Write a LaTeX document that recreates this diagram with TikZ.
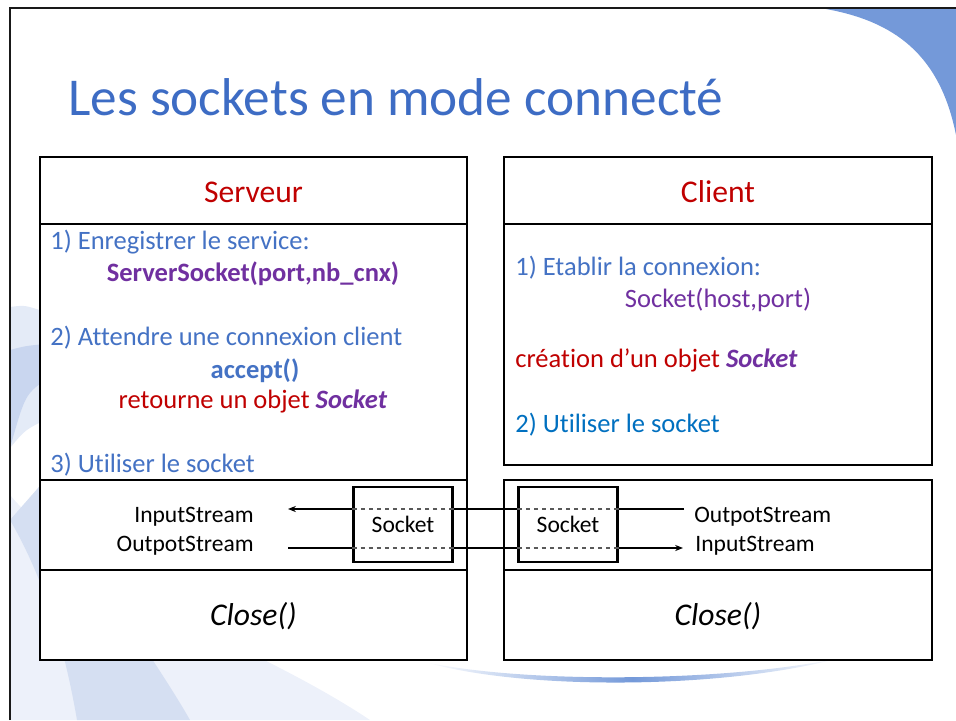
\documentclass[tikz,border=0pt]{standalone}
\usepackage{fontspec}
\setmainfont{Carlito}[Ligatures=NoCommon]
\usetikzlibrary{arrows.meta}
\definecolor{titleblue}{HTML}{3D6CC4}
\definecolor{txtblue}{HTML}{4472C4}
\definecolor{useblue}{HTML}{0070C0}
\definecolor{darkred}{HTML}{C00000}
\definecolor{sockpurple}{HTML}{7030A0}
\definecolor{cornerblue}{HTML}{7499D9}
\definecolor{decoA}{HTML}{E4EBF7}
\definecolor{decoB}{HTML}{C9D6EF}
\definecolor{decoC}{HTML}{EDF1FA}
\definecolor{decoD}{HTML}{D5DFF2}
\begin{document}
\begin{tikzpicture}[x=0.02cm,y=-0.02cm,
    box/.style={draw,line width=1pt,fill=white},
    sep/.style={line width=1pt},
    head/.style={font=\fontsize{18}{22}\selectfont,text=darkred,anchor=base,inner sep=0},
    body/.style={font=\fontsize{15.1}{18}\selectfont,text=txtblue,anchor=base west,inner sep=0},
    mid/.style={body,anchor=base},
    stream/.style={font=\fontsize{13.4}{16}\selectfont,inner sep=0},
    sock/.style={draw,line width=1.5pt,minimum width=56pt,minimum height=42.5pt,inner sep=0,font=\fontsize{13.4}{16}\selectfont},
    flow/.style={line width=0.7pt},
    dflow/.style={flow,gray!70!black,dash pattern=on 2.3pt off 2.3pt},
    closetxt/.style={font=\fontsize{18}{22}\selectfont\itshape,anchor=base,inner sep=0}]
    \useasboundingbox (0,0) rectangle (956,720);
    % slide background
    \fill [cornerblue] (820,8) .. controls (895,20) and (940,55) .. (956,135) -- (956,8) -- cycle;
    \fill [decoA] (10,307) .. controls (25,305) .. (45,312) -- (45,420) .. controls (25,430) .. (10,448) -- cycle;
    \fill [decoB] (10,350) .. controls (25,346) .. (45,344) -- (45,380) .. controls (25,395) .. (10,448) -- cycle;
    \fill [decoC] (10,495) .. controls (100,600) and (250,640) .. (370,720) -- (10,720) -- cycle;
    \fill [decoD] (10,520) .. controls (45,580) and (65,650) .. (77,720) -- (190,720) .. controls (150,650) and (80,560) .. (45,480) -- cycle;
    \shade [left color=white,right color=white,middle color=cornerblue] (425,662) .. controls (520,690) and (720,690) .. (840,658) .. controls (720,683) and (520,683) .. cycle;
    \draw [line width=1.4pt,black!90] (10,720) -- (10,8) -- (956,8);
    \node (title) [anchor=base west,inner sep=0,font=\fontsize{30.3}{36}\selectfont,text=titleblue] at (68,115) {Les sockets en mode connecté};
    % server
    \draw [box] (40,157) rectangle (467,660);
    \draw [sep] (40,224) -- (467,224) (40,480) -- (467,480) (40,570) -- (467,570);
    \node (shead) [head] at (253.5,202) {Serveur};
    \node (s1) [body] at (50,249) {1) Enregistrer le service:};
    \node (s1b) [mid,text=sockpurple] at (253,281) {\textbf{ServerSocket(port,nb\_cnx)}};
    \node (s2) [body] at (50,345) {2) Attendre une connexion client};
    \node (s2b) [mid] at (255,378) {\textbf{accept()}};
    \node (s2c) [mid,text=darkred] at (253,408) {retourne un objet \textcolor{sockpurple}{\textbf{\textit{Socket}}}};
    \node (s3) [body] at (50,472) {3) Utiliser le socket};
    \node (sclose) [closetxt] at (253.5,625) {Close()};
    % client
    \draw [box] (504,157) rectangle (932,465);
    \draw [sep] (504,224) -- (932,224);
    \draw [box] (504,480) rectangle (932,660);
    \draw [sep] (504,570) -- (932,570);
    \node (chead) [head] at (718,202) {Client};
    \node (c1) [body] at (515,275) {1) Etablir la connexion:};
    \node (c1b) [mid,text=sockpurple] at (718,307) {Socket(host,port)};
    \node (c2) [body,text=darkred] at (515,367) {création d’un objet \textcolor{sockpurple}{\textbf{\textit{Socket}}}};
    \node (c3) [body,text=useblue] at (515,432) {2) Utiliser le socket};
    \node (cclose) [closetxt] at (718,625) {Close()};
    % streams
    \node (sIn) [stream,anchor=base east] at (254,522) {InputStream};
    \node (sOut) [stream,anchor=base east] at (254,551) {OutpotStream};
    \node (cOut) [stream,anchor=base west] at (694,522) {OutpotStream};
    \node (cIn) [stream,anchor=base west] at (695,551) {InputStream};
    \node (ssock) [sock] at (403,524.5) {Socket};
    \node (csock) [sock] at (568,524.5) {Socket};
    \coordinate (sInEnd) at (288,509);
    \coordinate (cOutEnd) at (684,509);
    \coordinate (sOutEnd) at (288,548);
    \coordinate (cInEnd) at (683,548);
    \draw [flow] (cOutEnd) -- (csock.east |- cOutEnd);
    \draw [dflow] (csock.east |- cOutEnd) -- (csock.west |- cOutEnd);
    \draw [flow] (csock.west |- cOutEnd) -- (ssock.east |- cOutEnd);
    \draw [dflow] (ssock.east |- cOutEnd) -- (ssock.west |- cOutEnd);
    \draw [flow,-{Stealth[length=4.5pt,width=3.5pt]}] (ssock.west |- cOutEnd) -- (sInEnd);
    \draw [flow] (sOutEnd) -- (ssock.west |- sOutEnd);
    \draw [dflow] (ssock.west |- sOutEnd) -- (ssock.east |- sOutEnd);
    \draw [flow] (ssock.east |- sOutEnd) -- (csock.west |- sOutEnd);
    \draw [dflow] (csock.west |- sOutEnd) -- (csock.east |- sOutEnd);
    \draw [flow,-{Stealth[length=4.5pt,width=3.5pt]}] (csock.east |- sOutEnd) -- (cInEnd);
\end{tikzpicture}
\end{document}
